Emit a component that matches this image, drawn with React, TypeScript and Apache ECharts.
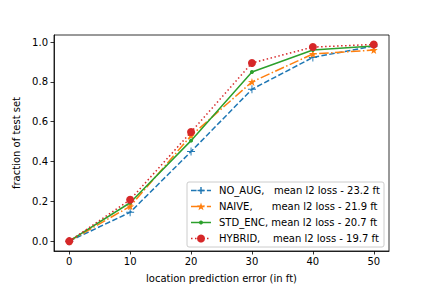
import React, { useEffect, useRef } from "react";
import * as echarts from "echarts";

const xValues = [0, 10, 20, 30, 40, 50];
const noAug = [0, 0.145, 0.45, 0.763, 0.923, 0.98];
const naive = [0, 0.175, 0.53, 0.8, 0.94, 0.96];
const stdEnc = [0, 0.193, 0.505, 0.85, 0.96, 0.98];
const hybrid = [0, 0.208, 0.548, 0.895, 0.975, 0.988];
const seriesNames = [
  "NO_AUG,   mean l2 loss - 23.2 ft",
  "NAIVE,      mean l2 loss - 21.9 ft",
  "STD_ENC, mean l2 loss - 20.7 ft",
  "HYBRID,    mean l2 loss - 19.7 ft",
];
const xTicks = [0, 10, 20, 30, 40, 50];
const yTicks = [0, 0.2, 0.4, 0.6, 0.8, 1.0];

const PLUS =
  "path://M-0.7,-6 L0.7,-6 L0.7,-0.7 L6,-0.7 L6,0.7 L0.7,0.7 L0.7,6 L-0.7,6 L-0.7,0.7 L-6,0.7 L-6,-0.7 L-0.7,-0.7 Z";
const STAR =
  "path://M0,-10 L2.35,-3.24 L9.51,-3.09 L3.8,1.24 L5.88,8.09 L0,4 L-5.88,8.09 L-3.8,1.24 L-9.51,-3.09 L-2.35,-3.24 Z";

const FONT = "DejaVu Sans";
const COLORS = ["#1f77b4", "#ff7f0e", "#2ca02c", "#d62728"];
const DASHES: (number[] | null)[] = [[5.55, 2.4], [9.6, 2.4, 1.5, 2.4], null, [1.5, 2.5]];

function starPoints(cx: number, cy: number, r: number): number[][] {
  const pts: number[][] = [];
  for (let i = 0; i < 10; i++) {
    const rr = i % 2 === 0 ? r : r * 0.4;
    const a = -Math.PI / 2 + (i * Math.PI) / 5;
    pts.push([cx + rr * Math.cos(a), cy + rr * Math.sin(a)]);
  }
  return pts;
}

function buildLegend(): any[] {
  const left = 187;
  const top = 182;
  const rowH = 16;
  const first = 190.5;
  const els: any[] = [
    {
      type: "rect",
      shape: { x: left, y: top, width: 197, height: 65, r: 2 },
      style: { fill: "rgba(255,255,255,0.8)", stroke: "#cccccc", lineWidth: 1 },
      z: 100,
    },
  ];
  seriesNames.forEach((name, i) => {
    const cy = first + i * rowH;
    const c = COLORS[i];
    els.push({
      type: "line",
      shape: { x1: 191, y1: cy, x2: 211, y2: cy },
      style: { stroke: c, lineWidth: 1.5, lineDash: DASHES[i] || undefined },
      z: 101,
    });
    const mx = 201;
    if (i === 0) {
      els.push({ type: "line", shape: { x1: mx - 3.5, y1: cy, x2: mx + 3.5, y2: cy }, style: { stroke: c, lineWidth: 1.4 }, z: 102 });
      els.push({ type: "line", shape: { x1: mx, y1: cy - 3.5, x2: mx, y2: cy + 3.5 }, style: { stroke: c, lineWidth: 1.4 }, z: 102 });
    } else if (i === 1) {
      els.push({ type: "polygon", shape: { points: starPoints(mx, cy + 0.3, 4.3) }, style: { fill: c }, z: 102 });
    } else if (i === 2) {
      els.push({ type: "circle", shape: { cx: mx, cy, r: 2 }, style: { fill: c }, z: 102 });
    } else {
      els.push({ type: "circle", shape: { cx: mx, cy, r: 4 }, style: { fill: c }, z: 102 });
    }
    els.push({
      type: "text",
      x: 219,
      y: cy,
      style: { text: name, fill: "#000", fontSize: 10, fontFamily: FONT, verticalAlign: "middle", align: "left" },
      z: 102,
    });
  });
  return els;
}

export default function App() {
  const ref = useRef<HTMLDivElement>(null);
  useEffect(() => {
    if (!ref.current) return;
    const chart = echarts.init(ref.current, null, { renderer: "svg" });
    const toData = (arr: number[]) => xValues.map((x, i) => [x, arr[i]]);
    chart.setOption({
      animation: false,
      textStyle: { fontFamily: FONT },
      grid: {
        left: 54,
        right: 43,
        top: 35,
        bottom: 36,
        show: true,
        borderColor: "#000",
        borderWidth: 0.8,
        backgroundColor: "transparent",
      },
      graphic: buildLegend(),
      xAxis: {
        type: "value",
        min: -2.5,
        max: 52.5,
        name: "location prediction error (in ft)",
        nameLocation: "middle",
        nameGap: 22,
        nameTextStyle: { fontFamily: FONT, fontSize: 10, color: "#000" },
        axisLine: { show: true, onZero: false, lineStyle: { color: "#000", width: 0.8 } },
        axisTick: { show: true, length: 3.5, customValues: xTicks, lineStyle: { color: "#000", width: 0.8 } },
        axisLabel: { customValues: xTicks, fontSize: 10, color: "#000", margin: 5, fontFamily: FONT },
        splitLine: { show: false },
      },
      yAxis: {
        type: "value",
        min: -0.0494,
        max: 1.0356,
        name: "fraction of test set",
        nameLocation: "middle",
        nameGap: 32,
        nameTextStyle: { fontFamily: FONT, fontSize: 10, color: "#000" },
        axisLine: { show: true, onZero: false, lineStyle: { color: "#000", width: 0.8 } },
        axisTick: { show: true, length: 3.5, customValues: yTicks, lineStyle: { color: "#000", width: 0.8 } },
        axisLabel: {
          customValues: yTicks,
          fontSize: 10,
          color: "#000",
          margin: 6,
          fontFamily: FONT,
          formatter: (v: number) => v.toFixed(1),
        },
        splitLine: { show: false },
      },
      series: [
        {
          name: seriesNames[0],
          type: "line",
          data: toData(noAug),
          symbol: PLUS,
          symbolSize: 8,
          color: COLORS[0],
          lineStyle: { width: 1.5, type: DASHES[0] },
          itemStyle: { color: COLORS[0] },
          z: 2,
        },
        {
          name: seriesNames[1],
          type: "line",
          data: toData(naive),
          symbol: STAR,
          symbolSize: 8,
          color: COLORS[1],
          lineStyle: { width: 1.5, type: DASHES[1] },
          itemStyle: { color: COLORS[1] },
          z: 3,
        },
        {
          name: seriesNames[2],
          type: "line",
          data: toData(stdEnc),
          symbol: "circle",
          symbolSize: 4,
          color: COLORS[2],
          lineStyle: { width: 1.5, type: "solid" },
          itemStyle: { color: COLORS[2] },
          z: 4,
        },
        {
          name: seriesNames[3],
          type: "line",
          data: toData(hybrid),
          symbol: "circle",
          symbolSize: 8,
          color: COLORS[3],
          lineStyle: { width: 1.5, type: DASHES[3] },
          itemStyle: { color: COLORS[3] },
          z: 5,
        },
      ],
    });
    return () => chart.dispose();
  }, []);
  return <div ref={ref} style={{ width: 432, height: 288, position: "absolute", left: 0, top: 0 }} />;
}
